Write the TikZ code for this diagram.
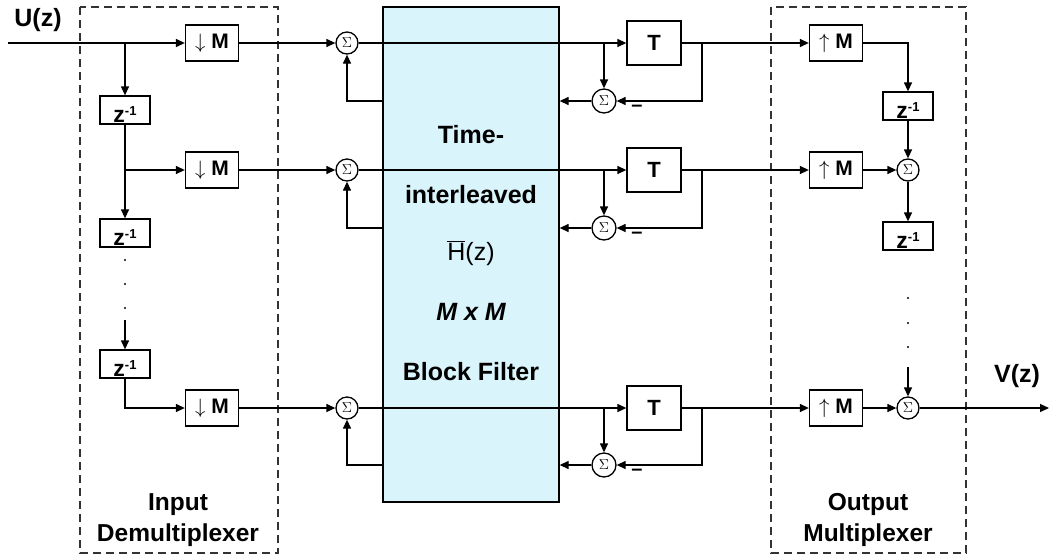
\documentclass[tikz,border=0pt]{standalone}
\usepackage{fontspec}
\setmainfont{Liberation Sans}
\usetikzlibrary{arrows.meta}
\definecolor{filtfill}{RGB}{217,244,251}
\newcommand{\zinv}{z\raisebox{7pt}{\fontsize{13}{13}\selectfont -1}}

\begin{document}
\begin{tikzpicture}[
    x=1pt, y=-1pt,
    line width=1.3pt,
    >={Triangle[length=9pt,width=8pt]},
    blk/.style={draw, minimum width=53pt, minimum height=36pt, inner sep=0pt,
        font=\fontsize{21}{23}\selectfont\bfseries},
    tblk/.style={blk, minimum width=54pt, minimum height=44pt,
        font=\fontsize{22}{24}\selectfont\bfseries},
    dly/.style={draw, minimum width=50pt, minimum height=28pt, inner sep=0pt,
        text height=24pt, text depth=0pt,
        font=\fontsize{23}{24}\selectfont\bfseries},
    sumnode/.style={draw, circle, minimum size=22pt, inner sep=0pt,
        font=\fontsize{14}{14}\selectfont},
    mux/.style={draw=black!80, dash pattern=on 8pt off 5pt},
    lbl/.style={font=\fontsize{24.5}{31}\selectfont\bfseries, align=center},
    minus/.style={font=\fontsize{20}{20}\selectfont\bfseries}
]
\useasboundingbox (0,0) rectangle (1050,558);

% --- dashed (de)multiplexer frames and the block filter ---
\draw[mux] (80,7) rectangle (278,553);
\draw[mux] (771,7) rectangle (966,553);
\node[draw, fill=filtfill, minimum width=176pt, minimum height=495pt,
    inner sep=0pt] (filt) at (471,254.5) {};
\foreach \txt/\yy [count=\i] in
    {{Time-}/135, {interleaved}/195, {\mdseries$\overline{\hbox{H}}$(z)}/253,
     {\itshape M x M}/312, {Block Filter}/372} {
    \node[font=\fontsize{25}{27}\selectfont\bfseries] (ft\i) at (471,\yy) {\txt};
}

% --- one channel per row: decimator, loop sum, T, expander ---
\foreach \r/\yy/\fb in {1/43/101, 2/170/228, 3/408/465} {
    \node[blk] (dm\r) at (212,\yy) {{\mdseries$\downarrow$} M};
    \node[sumnode] (sa\r) at (347,\yy) {$\Sigma$};
    \node[tblk] (tb\r) at (654,\yy) {T};
    \node[sumnode, minimum size=24pt] (sb\r) at (604,\fb) {$\Sigma$};
    \node[minus] (mn\r) at (637,\fb+7) {--};
    \node[blk] (um\r) at (836,\yy) {{\mdseries$\uparrow$} M};
    \coordinate (tp\r) at (604,\yy);
    \coordinate (to\r) at (702,\yy);
    \draw[->] (dm\r) -- (sa\r);
    \draw[->] (sa\r) -- (tb\r);
    \draw[->] (tp\r) -- (sb\r);
    \draw (tb\r) -- (to\r);
    \draw[->] (to\r) -- (um\r);
    \draw[->] (to\r) |- (sb\r);
    \draw[->] (sb\r) -- (sb\r -| filt.east);
    \draw[->] (sb\r -| filt.west) -| (sa\r);
}

% --- input delay chain ---
\coordinate (uin) at (8,43);
\coordinate (sp1) at (125,43);
\node[dly] (zi1) at (125,110) {\zinv};
\node[dly] (zi2) at (125,233) {\zinv};
\node[dly] (zi3) at (125,364) {\zinv};
\draw (uin) -- (sp1);
\draw[->] (sp1) -- (dm1);
\draw[->] (sp1) -- (zi1);
\draw[->] (zi1) -- (zi2);
\draw[->] (zi1.south |- dm2) -- (dm2);
\foreach \yy in {260,284,308} \fill (125,\yy) circle (1.2pt);
\coordinate (dl) at (125,320);
\draw[->] (dl) -- (zi3);
\draw[->] (zi3.south) |- (dm3);

% --- output delay chain ---
\node[dly] (zo1) at (908,106) {\zinv};
\node[sumnode] (so2) at (908,170) {$\Sigma$};
\node[dly] (zo2) at (908,236) {\zinv};
\node[sumnode] (so3) at (908,408) {$\Sigma$};
\draw[->] (um1) -| (zo1);
\draw[->] (zo1) -- (so2);
\draw[->] (um2) -- (so2);
\draw[->] (so2) -- (zo2);
\foreach \yy in {298,323,347} \fill (908,\yy) circle (1.2pt);
\coordinate (dr) at (908,367);
\draw[->] (dr) -- (so3);
\draw[->] (um3) -- (so3);
\coordinate (vout) at (1049,408);
\draw[->] (so3) -- (vout);

% --- labels ---
\node[font=\fontsize{25}{28}\selectfont\bfseries] (uz) at (38,20) {U(z)};
\node[font=\fontsize{25}{28}\selectfont\bfseries] (vz) at (1017,376) {V(z)};
\node[lbl] (inlbl) at (178,520) {Input\\Demultiplexer};
\node[lbl] (outlbl) at (868,520) {Output\\Multiplexer};

\end{tikzpicture}
\end{document}
